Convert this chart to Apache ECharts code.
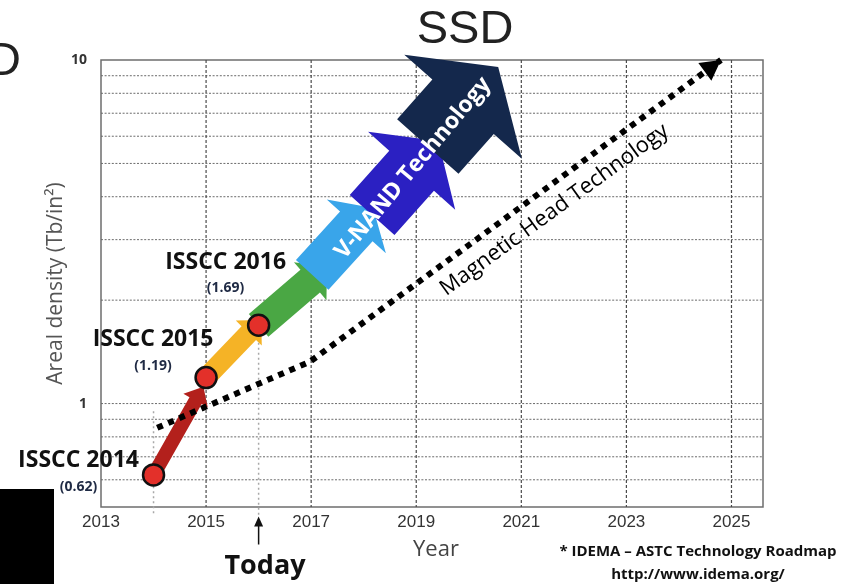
<!DOCTYPE html>
<html>
<head>
<meta charset="utf-8">
<script src="https://cdn.jsdelivr.net/npm/echarts@6/dist/echarts.min.js"></script>
<style>
  html, body { margin: 0; padding: 0; background: #fff; }
  #chart { width: 846px; height: 584px; }
</style>
</head>
<body>
<div id="chart"></div>
<script>
// Axis ticks and grid positions
const xTickYears = [2013, 2015, 2017, 2019, 2021, 2023, 2025];
const xGridYears = [2015, 2017, 2019, 2021, 2023, 2025];
const yTickLabels = [1, 10];
const yGridValues = [0.6, 0.7, 0.8, 0.9, 1, 2, 3, 4, 5, 6, 7, 8, 9];

// ISSCC V-NAND results (Tb/in^2)
const isscNames = ['ISSCC 2014', 'ISSCC 2015', 'ISSCC 2016'];
const isscYears = [2014, 2015, 2016];
const isscDensity = [0.62, 1.19, 1.69];

// V-NAND roadmap arrows (from -> to)
const arrowFromYear = [2014, 2015, 2016, 2017.02, 2018.16, 2019.22];
const arrowFromDensity = [0.62, 1.19, 1.69, 2.37, 3.54, 5.6];
const arrowToYear = [2014.95, 2016.05, 2017.3, 2018.18, 2019.42, 2020.56];
const arrowToDensity = [1.12, 1.75, 2.5, 3.71, 5.81, 9.54];

// Magnetic head (HDD) trend
const hddYears = [2014.07, 2015, 2016.98, 2024.8];
const hddDensity = [0.85, 0.98, 1.325, 10];

// Vertical marker lines for 2014 and "Today"
const markerYears = [2014, 2016];
const markerTopDensity = [0.95, 1.9];
const markerBottomDensity = 0.475;
const todayYear = 2016;
const todayArrowDensity = [0.389, 0.469];

// Rotated captions along the trends
const captionTexts = ['V-NAND Technology', 'Magnetic Head Technology'];
const captionYears = [2018.94, 2021.63];
const captionDensity = [4.85, 3.66];

// ---- styling ----
const FONT = '"Open Sans", "Noto Sans", sans-serif';
const ARIAL = '"Liberation Sans", Arial, sans-serif';
const arrowColors = ['#b3201c', '#f5b326', '#4aa744', '#39a5ea', '#2b20c2', '#14284c'];
const arrowShaft = [14, 20, 30, 44, 60, 82];
const arrowHead = [28, 36, 50, 80, 117, 157];
const arrowHeadLen = [16, 18, 22, 25, 40, 53];
const labelOffsets = [[-75, -3], [-53, -27], [-33, -52]];
const captionRotate = [50, 36];
const captionStyle = [
  { color: '#ffffff', fontSize: 23, fontWeight: 'bold' },
  { color: '#000000', fontSize: 22, fontWeight: 'normal' }
];

function arrowPoints(p0, p1, sw, hw, hl) {
  const dx = p1[0] - p0[0], dy = p1[1] - p0[1];
  const len = Math.hypot(dx, dy) || 1;
  const ux = dx / len, uy = dy / len;
  const nx = -uy, ny = ux;
  const bx = p1[0] - ux * hl, by = p1[1] - uy * hl;
  return [
    [p0[0] + nx * sw / 2, p0[1] + ny * sw / 2],
    [bx + nx * sw / 2, by + ny * sw / 2],
    [bx + nx * hw / 2, by + ny * hw / 2],
    [p1[0], p1[1]],
    [bx - nx * hw / 2, by - ny * hw / 2],
    [bx - nx * sw / 2, by - ny * sw / 2],
    [p0[0] - nx * sw / 2, p0[1] - ny * sw / 2]
  ];
}

const chart = echarts.init(document.getElementById('chart'));

const option = {
  animation: false,
  backgroundColor: '#ffffff',
  grid: {
    left: 101, right: 83, top: 60, bottom: 77,
    show: true, borderColor: '#6e6e6e', borderWidth: 1.5, backgroundColor: 'transparent'
  },
  xAxis: {
    type: 'value', min: 2013, max: 2025.6, interval: 1,
    axisLine: { show: false }, axisTick: { show: false }, splitLine: { show: false },
    axisLabel: {
      margin: 7, fontSize: 17, color: '#333', fontFamily: ARIAL,
      showMaxLabel: false,
      formatter: v => (xTickYears.indexOf(Math.round(v)) >= 0 && Math.abs(v - Math.round(v)) < 1e-6) ? String(Math.round(v)) : ''
    }
  },
  yAxis: {
    type: 'log', logBase: 10, min: 0.5, max: 10,
    name: 'Areal density (Tb/in²)', nameLocation: 'middle', nameGap: 34, nameMoveOverlap: false,
    nameTextStyle: { fontSize: 21, color: '#555', fontFamily: FONT },
    axisLine: { show: false }, axisTick: { show: false }, splitLine: { show: false },
    axisLabel: {
      margin: 14, fontSize: 14, fontWeight: 'bold', color: '#333', fontFamily: FONT,
      formatter: v => yTickLabels.some(t => Math.abs(t - v) < 1e-6) ? String(Math.round(v)) : ''
    }
  },
  graphic: [
    { type: 'rect', left: 0, top: 489, shape: { width: 54, height: 95 }, style: { fill: '#000' } },
    { type: 'text', x: 465, y: 30, style: { text: 'SSD', font: '47px ' + ARIAL, fill: '#222', align: 'center', verticalAlign: 'middle', textAlign: 'center', textVerticalAlign: 'middle' } },
    { type: 'text', x: 21, y: 62, style: { text: 'HDD', font: '47px ' + ARIAL, fill: '#222', align: 'right', verticalAlign: 'middle', textAlign: 'right', textVerticalAlign: 'middle' } },
    { type: 'text', x: 265, y: 566, style: { text: 'Today', font: 'bold 27px ' + FONT, fill: '#111', align: 'center', verticalAlign: 'middle', textAlign: 'center', textVerticalAlign: 'middle' } },
    { type: 'text', x: 436, y: 550, style: { text: 'Year', font: '22px ' + FONT, fill: '#444', align: 'center', verticalAlign: 'middle', textAlign: 'center', textVerticalAlign: 'middle' } },
    { type: 'text', x: 698, y: 552, style: { text: '* IDEMA – ASTC Technology Roadmap', font: 'bold 15px ' + FONT, fill: '#111', align: 'center', verticalAlign: 'middle', textAlign: 'center', textVerticalAlign: 'middle' } },
    { type: 'text', x: 698, y: 575, style: { text: 'http://www.idema.org/', font: 'bold 15px ' + FONT, fill: '#111', align: 'center', verticalAlign: 'middle', textAlign: 'center', textVerticalAlign: 'middle' } }
  ],
  series: [
    {
      // horizontal log grid lines
      type: 'custom', z: 1, silent: true, clip: false,
      data: yGridValues.map(v => [2013, v]),
      encode: { x: 0, y: 1 },
      renderItem: (params, api) => {
        const cs = params.coordSys;
        const p = api.coord([api.value(0), api.value(1)]);
        return { type: 'line', shape: { x1: cs.x, y1: p[1], x2: cs.x + cs.width, y2: p[1] },
                 style: { stroke: '#6a6a6a', lineWidth: 1, lineDash: [2, 1.6] } };
      }
    },
    {
      // vertical year grid lines
      type: 'custom', z: 1, silent: true, clip: false,
      data: xGridYears.map(y => [y, 1]),
      encode: { x: 0, y: 1 },
      renderItem: (params, api) => {
        const cs = params.coordSys;
        const p = api.coord([api.value(0), api.value(1)]);
        return { type: 'line', shape: { x1: p[0], y1: cs.y, x2: p[0], y2: cs.y + cs.height },
                 style: { stroke: '#4a4a4a', lineWidth: 1.2, lineDash: [3, 2] } };
      }
    },
    {
      // light marker lines at 2014 and 2016
      type: 'custom', z: 1, silent: true, clip: false,
      data: markerYears.map((y, i) => [y, markerTopDensity[i], markerBottomDensity]),
      encode: { x: 0, y: [1, 2] },
      renderItem: (params, api) => {
        const a = api.coord([api.value(0), api.value(1)]);
        const b = api.coord([api.value(0), api.value(2)]);
        return { type: 'line', shape: { x1: a[0], y1: a[1], x2: b[0], y2: b[1] },
                 style: { stroke: '#a8a8a8', lineWidth: 1.5, lineDash: [2, 3] } };
      }
    },
    {
      // V-NAND roadmap arrows
      type: 'custom', z: 2, silent: true, clip: false,
      data: arrowFromYear.map((x, i) => [x, arrowFromDensity[i], arrowToYear[i], arrowToDensity[i]]),
      encode: { x: [0, 2], y: [1, 3] },
      renderItem: (params, api) => {
        const i = params.dataIndex;
        const p0 = api.coord([api.value(0), api.value(1)]);
        const p1 = api.coord([api.value(2), api.value(3)]);
        return { type: 'polygon', shape: { points: arrowPoints(p0, p1, arrowShaft[i], arrowHead[i], arrowHeadLen[i]) },
                 style: { fill: arrowColors[i] } };
      }
    },
    {
      // magnetic head trend
      type: 'line', z: 3, silent: true, symbol: 'none', clip: false,
      data: hddYears.map((x, i) => [x, hddDensity[i]]),
      lineStyle: { color: '#000', width: 6, type: [6, 6], cap: 'butt', join: 'miter' }
    },
    {
      // arrow head of the magnetic head trend
      type: 'custom', z: 3, silent: true, clip: false,
      data: [[hddYears[2], hddDensity[2], hddYears[3], hddDensity[3]]],
      encode: { x: [0, 2], y: [1, 3] },
      renderItem: (params, api) => {
        const p0 = api.coord([api.value(0), api.value(1)]);
        const p1 = api.coord([api.value(2), api.value(3)]);
        return { type: 'polygon', shape: { points: arrowPoints(p0, p1, 0, 22, 20) }, style: { fill: '#000' } };
      }
    },
    {
      // "Today" pointer under the axis
      type: 'custom', z: 3, silent: true, clip: false,
      data: [[todayYear, todayArrowDensity[0], todayYear, todayArrowDensity[1]]],
      encode: { x: [0, 2], y: [1, 3] },
      renderItem: (params, api) => {
        const p0 = api.coord([api.value(0), api.value(1)]);
        const p1 = api.coord([api.value(2), api.value(3)]);
        return { type: 'polygon', shape: { points: arrowPoints(p0, p1, 1.5, 9, 10) }, style: { fill: '#111' } };
      }
    },
    {
      // captions along the trends
      type: 'scatter', z: 4, silent: true,
      symbolSize: 1, itemStyle: { color: 'rgba(0,0,0,0)' },
      data: captionTexts.map((t, i) => ({
        name: t,
        value: [captionYears[i], captionDensity[i]],
        label: Object.assign({ rotate: captionRotate[i] }, captionStyle[i])
      })),
      label: {
        show: true, position: 'inside', align: 'center', verticalAlign: 'middle',
        opacity: 1, fontFamily: FONT, formatter: p => p.name
      }
    },
    {
      // ISSCC measured points
      type: 'scatter', z: 5, silent: true,
      symbol: 'circle', symbolSize: 21,
      itemStyle: { color: '#e3302a', borderColor: '#111', borderWidth: 2.5, opacity: 1 },
      data: isscYears.map((x, i) => ({
        value: [x, isscDensity[i]],
        label: { offset: labelOffsets[i] }
      })),
      label: {
        show: true, position: 'inside', align: 'center', verticalAlign: 'middle',
        formatter: p => '{t|' + isscNames[p.dataIndex] + '}\n{v|(' + isscDensity[p.dataIndex].toFixed(2) + ')}',
        rich: {
          t: { fontSize: 23, fontWeight: 'bold', color: '#111', fontFamily: FONT, lineHeight: 30, align: 'center' },
          v: { fontSize: 14, fontWeight: 'bold', color: '#1f2a44', fontFamily: FONT, lineHeight: 22, align: 'center' }
        }
      }
    }
  ]
};

chart.setOption(option);
</script>
</body>
</html>
